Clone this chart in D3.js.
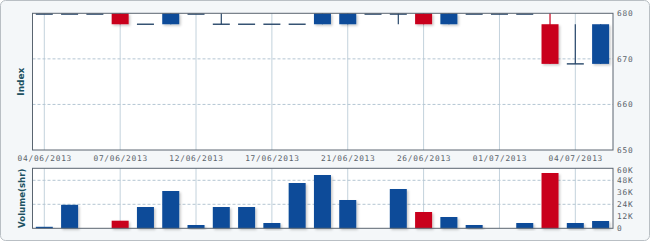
<!DOCTYPE html>
<html>
<head>
<meta charset="utf-8">
<script src="https://cdn.jsdelivr.net/npm/d3@7"></script>
<style>
  body { margin: 0; background: #fff; }
  svg { display: block; }
</style>
</head>
<body>
<svg id="mainSvg" width="650" height="241"></svg>
<script>
// trading days shown on the category axis
let dates = ["04/06/2013", "05/06/2013", "06/06/2013", "07/06/2013", "10/06/2013", "11/06/2013",
    "12/06/2013", "13/06/2013", "14/06/2013", "17/06/2013", "18/06/2013", "19/06/2013",
    "21/06/2013", "24/06/2013", "25/06/2013", "26/06/2013", "27/06/2013", "28/06/2013",
    "01/07/2013", "02/07/2013", "03/07/2013", "04/07/2013", "05/07/2013"];

let openVals  = [680, 680, 680, 680, 677.6, 677.6, 680, 677.6, 677.6, 677.6, 677.6, 677.6,
    677.6, 680, 680, 680, 677.6, 680, 680, 680, 677.6, 668.9, 668.9];
let closeVals = [680, 680, 680, 677.6, 677.6, 680, 680, 677.6, 677.6, 677.6, 677.6, 680,
    680, 680, 680, 677.6, 680, 680, 680, 680, 668.9, 668.9, 677.6];
let highVals  = [680, 680, 680, 680, 677.6, 680, 680, 680, 677.6, 677.6, 677.6, 680,
    680, 680, 680, 680, 680, 680, 680, 680, 680, 677.6, 677.6];
let lowVals   = [680, 680, 680, 677.6, 677.6, 677.6, 680, 677.6, 677.6, 677.6, 677.6, 677.6,
    677.6, 680, 677.6, 677.6, 677.6, 680, 680, 680, 668.9, 668.9, 668.9];

// volume in thousands of shares
let volumes = [1.5, 23.5, 0, 7.6, 21.3, 37.3, 3.3, 21.3, 21.3, 5.3, 45.3, 53.3,
    28.3, 0, 39.3, 16.3, 11.3, 3.3, 0, 5.3, 55.3, 5.3, 7.3];

let priceTicks = [650, 660, 670, 680];
let volumeTicks = [0, 12, 24, 36, 48, 60];
let volumeTickLabels = ["0", "12K", "24K", "36K", "48K", "60K"];
let labelEvery = 3;

let upColor = "#0b4c99";
let downColor = "#c9001d";
let flatColor = "#28476a";

function initMainSvg() {
    let canvas = d3.select("#mainSvg");
    let width = parseInt(canvas.attr("width"));
    let height = parseInt(canvas.attr("height"));

    let left = 32.5, right = 613;
    let mainTop = 13.3, mainBottom = 150;
    let volTop = 168.3, volBottom = 228.3;

    let data = dates.map((d, i) => {
        return {date: d, open: openVals[i], close: closeVals[i], high: highVals[i], low: lowVals[i], vol: volumes[i]};
    });

    let defs = canvas.append("defs");
    let f = defs.append("filter").attr("id", "shadow")
        .attr("x", "-20%").attr("y", "-20%").attr("width", "160%").attr("height", "160%");
    f.append("feDropShadow").attr("dx", 1.5).attr("dy", 1.5).attr("stdDeviation", 1)
        .attr("flood-color", "#000").attr("flood-opacity", 0.22);

    // outer frame
    canvas.append("rect")
        .attr("x", 0.5).attr("y", 0.5).attr("width", width - 1).attr("height", height - 1)
        .attr("rx", 5).attr("fill", "#f4f7f9").attr("stroke", "#b9bfc4");

    let x = d3.scalePoint().domain(dates).range([44.3, 600.6]);
    let y = d3.scaleLinear().domain([650, 680]).range([mainBottom, mainTop]);
    let yv = d3.scaleLinear().domain([0, 60]).range([volBottom, volTop]);
    let bodyW = 17;

    let colorOf = (d) => d.close > d.open ? upColor : (d.close < d.open ? downColor : flatColor);
    let volColorOf = (d) => d.close < d.open ? downColor : upColor;

    // plot backgrounds
    canvas.append("rect").attr("x", left).attr("y", mainTop)
        .attr("width", right - left).attr("height", mainBottom - mainTop).attr("fill", "#fff");
    canvas.append("rect").attr("x", left).attr("y", volTop)
        .attr("width", right - left).attr("height", volBottom - volTop).attr("fill", "#fff");

    let labelled = dates.filter((d, i) => i % labelEvery == 0);

    // vertical grid lines in both panels
    [[mainTop, mainBottom], [volTop, volBottom]].forEach(p => {
        canvas.append("g").selectAll("line")
            .data(labelled)
            .enter()
                .append("line")
                .attr("x1", d => x(d)).attr("x2", d => x(d))
                .attr("y1", p[0]).attr("y2", p[1])
                .attr("stroke", "#c3d2dc").attr("stroke-width", 1);
    });

    // horizontal dashed grid lines
    canvas.append("g").selectAll("line")
        .data(priceTicks.filter(t => t != 650 && t != 680))
        .enter()
            .append("line")
            .attr("x1", left).attr("x2", right)
            .attr("y1", d => y(d)).attr("y2", d => y(d))
            .attr("stroke", "#b4c6d3").attr("stroke-dasharray", "3,2");
    canvas.append("g").selectAll("line")
        .data([24, 48])
        .enter()
            .append("line")
            .attr("x1", left).attr("x2", right)
            .attr("y1", d => yv(d)).attr("y2", d => yv(d))
            .attr("stroke", "#b4c6d3").attr("stroke-dasharray", "3,2");

    // candles
    let candles = canvas.append("g");
    candles.selectAll("line.wick")
        .data(data.filter(d => d.high != d.low))
        .enter()
            .append("line")
            .attr("class", "wick")
            .attr("x1", d => x(d.date)).attr("x2", d => x(d.date))
            .attr("y1", d => y(d.high)).attr("y2", d => y(d.low))
            .attr("stroke", d => d.close < d.open ? downColor : flatColor).attr("stroke-width", 1.2);
    candles.selectAll("rect")
        .data(data.filter(d => d.open != d.close))
        .enter()
            .append("rect")
            .attr("x", d => x(d.date) - bodyW / 2)
            .attr("y", d => y(Math.max(d.open, d.close)))
            .attr("width", bodyW)
            .attr("height", d => Math.abs(y(d.open) - y(d.close)))
            .attr("fill", colorOf)
            .attr("filter", "url(#shadow)");
    candles.selectAll("line.flat")
        .data(data.filter(d => d.open == d.close))
        .enter()
            .append("line")
            .attr("class", "flat")
            .attr("x1", d => x(d.date) - bodyW / 2).attr("x2", d => x(d.date) + bodyW / 2)
            .attr("y1", d => y(d.close) + (d.close == 680 ? 0.8 : 0))
            .attr("y2", d => y(d.close) + (d.close == 680 ? 0.8 : 0))
            .attr("stroke", flatColor).attr("stroke-width", 1.4);

    // volume bars
    canvas.append("g").selectAll("rect")
        .data(data.filter(d => d.vol > 0))
        .enter()
            .append("rect")
            .attr("x", d => x(d.date) - bodyW / 2)
            .attr("y", d => yv(d.vol))
            .attr("width", bodyW)
            .attr("height", d => volBottom - yv(d.vol))
            .attr("fill", volColorOf)
            .attr("filter", "url(#shadow)");

    // plot borders
    [[mainTop, mainBottom], [volTop, volBottom]].forEach(p => {
        canvas.append("rect")
            .attr("x", left).attr("y", p[0]).attr("width", right - left).attr("height", p[1] - p[0])
            .attr("fill", "none").attr("stroke", "#5a6570").attr("stroke-width", 1);
    });

    // axes
    let tickFont = (g) => {
        g.select(".domain").remove();
        g.selectAll(".tick line").remove();
        g.selectAll("text")
            .attr("font-family", "'DejaVu Sans Mono', monospace")
            .attr("font-size", "7.8px")
            .attr("letter-spacing", "0.75px")
            .attr("fill", "#59626a");
    };

    canvas.append("g")
        .attr("transform", `translate(0, ${mainBottom + 5})`)
        .call(d3.axisBottom(x).tickValues(labelled).tickSize(0).tickPadding(0))
        .call(tickFont);

    canvas.append("g")
        .attr("transform", `translate(${right}, 0)`)
        .call(d3.axisRight(y).tickValues(priceTicks).tickSize(0).tickPadding(4))
        .call(tickFont);

    canvas.append("g")
        .attr("transform", `translate(${right}, 0)`)
        .call(d3.axisRight(yv).tickValues(volumeTicks).tickSize(0).tickPadding(4)
            .tickFormat((d, i) => volumeTickLabels[i]))
        .call(tickFont)
        .selectAll(".tick text").attr("dy", (d) => d == 60 ? "0.5em" : "0.32em");

    // axis titles
    canvas.append("text")
        .attr("transform", `translate(24, ${(mainTop + mainBottom) / 2}) rotate(-90)`)
        .attr("text-anchor", "middle")
        .attr("font-family", "'DejaVu Sans', sans-serif")
        .attr("font-size", "9px").attr("font-weight", "bold")
        .attr("fill", "#1d5262")
        .text("Index");
    canvas.append("text")
        .attr("transform", `translate(25, ${(volTop + volBottom) / 2}) rotate(-90)`)
        .attr("text-anchor", "middle")
        .attr("font-family", "'DejaVu Sans', sans-serif")
        .attr("font-size", "8.6px").attr("font-weight", "bold")
        .attr("fill", "#1d5262")
        .text("Volume(shr)");
}

initMainSvg();
</script>
</body>
</html>
